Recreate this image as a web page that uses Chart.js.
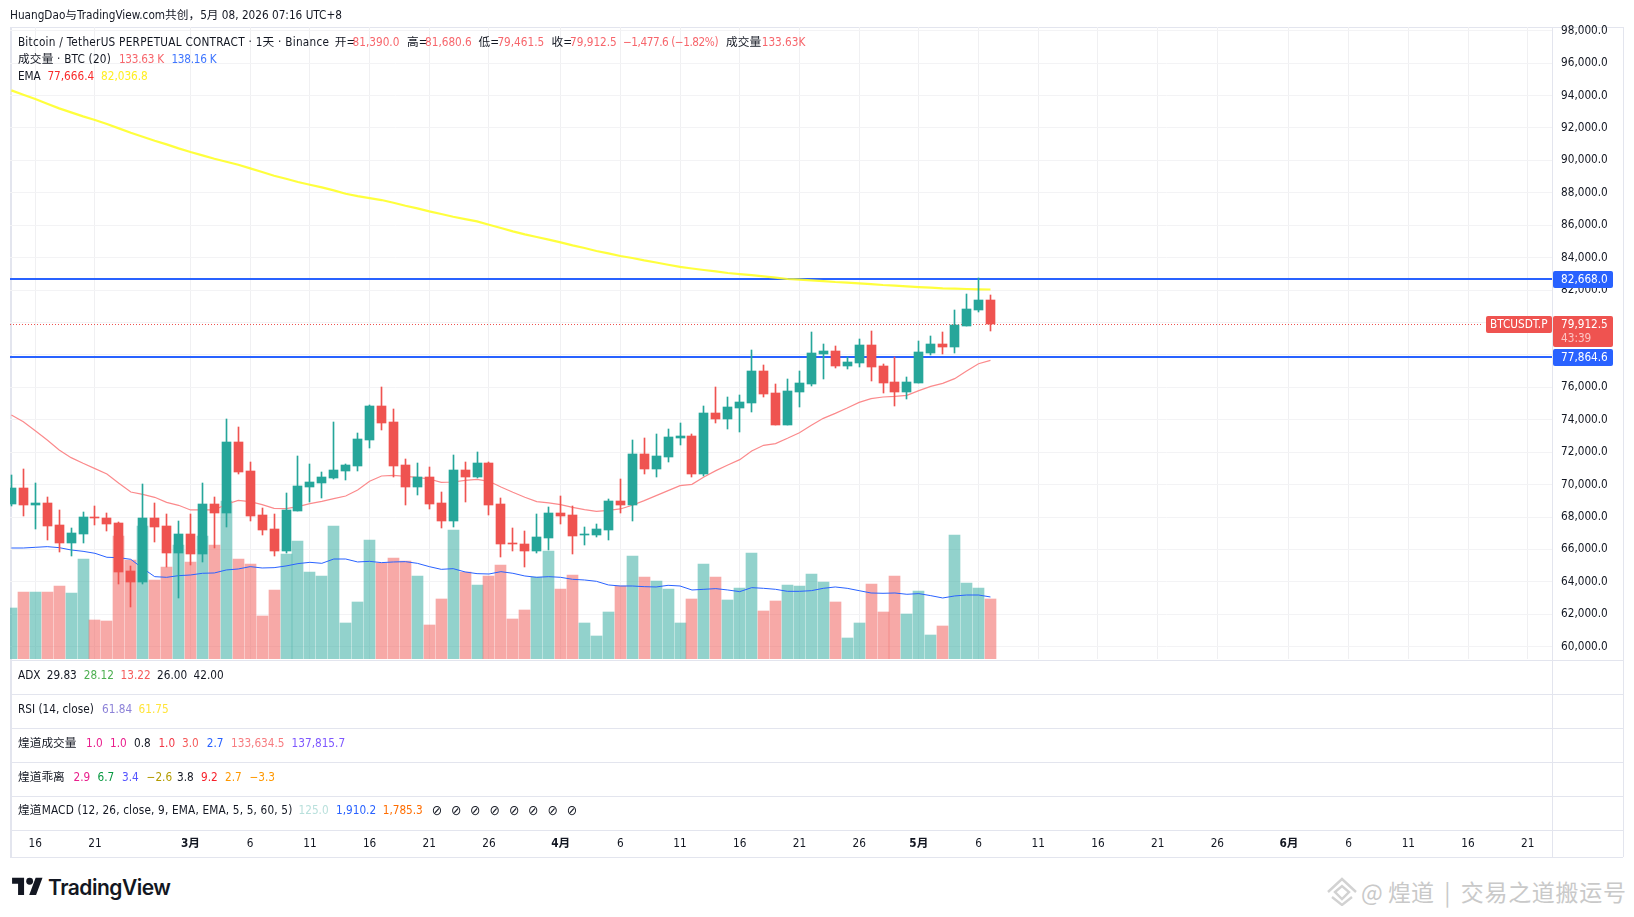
<!DOCTYPE html>
<html><head><meta charset="utf-8">
<script src="https://cdn.jsdelivr.net/npm/chart.js@4"></script>
<style>
html,body{margin:0;padding:0;background:#fff;width:1634px;height:917px;overflow:hidden}
canvas{position:absolute;left:0;top:0;z-index:1}
.t{position:absolute;z-index:2;white-space:nowrap;font:11.7px/16px 'DejaVu Sans Condensed','DejaVu Sans','Noto Sans CJK SC',sans-serif;color:#131722;transform:translateY(-50%)}
.h{position:absolute;z-index:0;background:#e3e5ee;height:1px;left:10px;width:1613px}
.v{position:absolute;z-index:0;background:#e3e5ee;width:1px}
#wm{position:absolute;white-space:nowrap;font:23px/30px 'Noto Sans CJK SC',sans-serif;color:#c9c9c9;transform:translateY(-50%)}
</style></head><body>
<canvas id="c" width="1634" height="917"></canvas>
<div id="ui"></div>
<svg style="position:absolute;left:12px;top:877px" width="31" height="18" viewBox="0 0 36 21"><path fill="#131722" d="M14 21H7V8H0V1h14v20zM28 21h-8L27.5 1h8L28 21z"/><circle cx="20.5" cy="5" r="4" fill="#131722"/></svg>
<div style="position:absolute;left:48px;top:875px;font:600 21px/26px Inter,Roboto,sans-serif;color:#131722;letter-spacing:-.5px">TradingView</div>
<svg style="position:absolute;left:1326px;top:876px" width="32" height="30" viewBox="0 0 32 30" fill="none" stroke="#d2d2d2" stroke-width="2.4"><path d="M2 16 16 3l14 13"/><path d="M9 16l7-6 7 6-7 7z"/><path d="M6 21l10 8 10-8"/></svg>
<div id="wm" style="left:1361px;top:891px">@ 煌道 &nbsp;|&nbsp; <span style="letter-spacing:.7px">交易之道搬运号</span></div>
<script>
const opens=[68800,69790,68740,68870,67510,66400,66950,68000,67940,67630,64670,63990,67940,67450,65780,66950,65720,68800,68250,72630,70840,68130,67260,65900,68370,69850,70100,70410,70840,71150,72750,74850,73860,71210,69850,70470,68870,67760,70900,70470,71330,68800,66400,66340,65900,66710,68250,68130,66890,66890,67200,68990,68740,71890,70960,71700,72850,72980,70630,74400,74030,74700,75010,76990,75630,73660,75690,76190,78040,78220,77300,77480,78590,77300,76310,75690,76250,78100,78650,78470,79760,80750,81390];
const highs=[70590,70960,70100,69240,68430,67320,68310,68680,68250,67690,64980,70040,68870,68190,67760,68190,70100,69240,74050,73550,71400,68560,68190,69480,71770,71270,70780,73860,71270,73180,74910,76020,74660,71580,71330,71090,69540,71830,71400,72010,71400,69170,67320,67140,68190,68620,69300,68680,67390,67570,69110,70350,72750,72880,73120,73430,73780,73100,74830,76000,75380,75510,78280,77360,76190,76490,76990,79390,78650,78530,77850,78960,79450,77420,77850,76620,78840,79150,79390,80750,81740,82760,81680.6];
const lows=[68680,68060,67260,66580,65840,65600,66400,67510,67140,63870,62450,63870,66460,64920,63010,65040,65230,66090,67390,70650,67760,66890,65600,65780,68370,68930,69170,70350,70280,70840,72260,73370,70470,68740,69360,68500,67320,67390,68930,70410,68130,65540,65900,64920,65780,65970,67570,65720,66280,66770,66580,68250,67760,70650,70470,71400,72420,70450,70510,73780,73410,73220,74460,75380,73660,73660,74770,76060,76490,77170,77110,77230,76370,75630,74830,75260,76250,77970,78040,78100,79760,80630,79461.5];
const closes=[69790,68740,68870,67450,66400,67020,68000,67940,67570,64610,63990,67940,67390,65780,66950,65720,68800,68250,72630,70780,68060,67200,65900,68430,69910,70160,70470,70900,71210,72810,74850,73800,71150,69850,70470,68800,67760,70900,70470,71330,68740,66340,66340,65900,66770,68250,68060,66830,66950,67260,68990,68740,71890,70960,71770,72940,72980,70630,74400,74030,74770,75070,76990,75570,73660,75750,76250,78100,78220,77300,77540,78590,77230,76250,75690,76310,78160,78650,78470,79820,80810,81390,79912.5];
const volumes=[113.6,149.3,149.3,149.3,162.6,147,222.7,86.9,84.7,274,220.5,296.2,176,204.9,253.9,216.1,274,253.9,351.9,222.7,211.6,95.9,153.7,233.9,262.9,193.9,184.9,296.2,80.2,127,265.1,213.9,225,218.3,184.9,75.8,133.7,287.3,193.9,164.9,184.9,209.4,89.1,109.2,182.7,240.6,155.9,187.1,80.2,51.3,104.7,162.6,229.4,182.7,173.8,155.9,80.2,133.7,211.6,182.7,131.5,158.2,236.1,107,129.2,164.9,162.6,189.4,171.6,127,46.8,80.2,167.1,104.7,184.9,100.3,151.5,53.5,73.6,276.2,169.3,158.1,133.63];
const volumeMA=[247.2,247.2,248.7,250.2,248,242.8,239.8,235.4,226.5,225.7,222,202,183.4,181.9,185.6,187.1,190.9,191.6,198.3,200.5,205.7,202.7,203.4,207.2,212.4,215.3,213.1,222.7,222.7,216.1,217.5,214.6,216.1,216.8,213.1,205.7,199.7,201.2,193.9,190.1,189.3,194.5,190.9,184.9,181.9,183.4,181.9,177.5,176,173,164.9,162.6,162.6,161.1,160.4,164.1,162.6,153.7,155.2,156.7,153.7,150,158.9,157.4,155.2,150.7,150.7,152.2,157.4,160.4,157.4,152.2,147,146.3,147,144.1,145.6,141.1,135.9,140.4,142.5,142.5,138.16];
const emaFast=[74294,73882,73327,72752,72135,71662,71312,70983,70654,70079,69544,69400,69215,68907,68722,68434,68434,68434,68784,69030,68948,68763,68537,68516,68640,68825,68969,69133,69298,69668,70202,70531,70572,70511,70449,70346,70140,70161,70264,70326,70202,69853,69524,69215,68948,68866,68763,68598,68455,68352,68413,68496,68722,69010,69318,69626,69934,70017,70469,70860,71209,71538,72073,72422,72525,72854,73203,73656,74088,74396,74725,75074,75301,75403,75445,75506,75794,76061,76246,76534,77007,77459,77666.4];
const emaSlow=[94320,94052,93785,93497,93209,92963,92716,92490,92243,91976,91709,91462,91215,90989,90742,90516,90310,90105,89920,89735,89509,89282,89056,88871,88666,88501,88337,88150,87945,87801,87678,87554,87390,87205,87040,86855,86691,86526,86382,86239,86033,85827,85622,85437,85272,85108,84943,84758,84594,84409,84265,84100,83977,83830,83700,83560,83430,83330,83237,83155,83052,82990,82928,82846,82764,82682,82641,82599,82558,82497,82455,82414,82373,82312,82270,82229,82188,82147,82106,82085,82065,82044,82036.8];
const levels=[82668.0,77864.6];
const lastPrice=79912.5;
const priceTicks=[60000,62000,64000,66000,68000,70000,72000,74000,76000,78000,80000,82000,84000,86000,88000,90000,92000,94000,96000,98000];
const dateTickIndex=[2,7,15,20,25,30,35,40,46,51,56,61,66,71,76,81,86,91,96,101,107,112,117,122,127];
const dateTickLabels=['16','21','3月','6','11','16','21','26','4月','6','11','16','21','26','5月','6','11','16','21','26','6月','6','11','16','21'];

const FONT="'DejaVu Sans Condensed','DejaVu Sans','Noto Sans CJK SC',sans-serif";
const UP='#26a69a',DOWN='#ef5350',BLUE='#2962ff';
const XMIN=-0.117,XMAX=129.03,DOTTED_END=123.25;
const isUp=i=>closes[i]>=opens[i];
const candleColors=closes.map((_,i)=>isUp(i)?UP:DOWN);
const volColors=closes.map((_,i)=>isUp(i)?'rgba(38,166,154,.5)':'rgba(239,83,80,.5)');
const pts=a=>a.map((y,x)=>({x,y}));
const hline=(v,a,b)=>[{x:a,y:v},{x:b,y:v}];

const snapMarks={id:'snapMarks',afterDatasetsUpdate(ch){
  ch.getSortedVisibleDatasetMetas().forEach(m=>{
    if(m.type==='bar'){
      m.data.forEach(el=>{el.x=Math.floor(el.x)+.5;el.y=Math.round(el.y);el.base=Math.round(el.base);
        if(el.y===el.base)el.base=el.y+1;});
    }else if(m.data.length===2){
      const half=(m.dataset.options.borderWidth%2)?.5:0;
      m.data.forEach(el=>{el.y=Math.round(el.y)+half;});
    }
  });
}};
const tags={id:'tags',afterDraw(ch){
  const c=ch.ctx,y=ch.scales.y;c.save();
  c.font='11.7px '+FONT;c.textBaseline='middle';c.textAlign='left';
  const box=(x,yy,w,h,col)=>{c.fillStyle=col;c.beginPath();c.roundRect(x,yy,w,h,2);c.fill();};
  levels.forEach(v=>{const p=Math.round(y.getPixelForValue(v));
    box(1553,p-8,60,17,BLUE);c.fillStyle='#fff';c.fillText(v.toLocaleString('en-US',{minimumFractionDigits:1}),1561,p+.5);});
  const p=Math.round(y.getPixelForValue(lastPrice));
  box(1486,p-8,66,17,DOWN);box(1553,p-8,60,31,DOWN);
  c.fillStyle='#fff';c.fillText('BTCUSDT.P',1490,p+.5);
  c.fillText(lastPrice.toLocaleString('en-US',{minimumFractionDigits:1}),1561,p+.5);
  c.fillStyle='#fbc4c3';c.fillText('43:39',1561,p+14.5);
  c.restore();
}};

new Chart(document.getElementById('c'),{
  type:'bar',
  plugins:[snapMarks,tags],
  data:{datasets:[
    {type:'bar',data:candleColors.map((_,i)=>({x:i,y:[opens[i],closes[i]]})),backgroundColor:candleColors,barThickness:9,grouped:false,yAxisID:'y',order:1},
    {type:'bar',data:candleColors.map((_,i)=>({x:i,y:[lows[i],highs[i]]})),backgroundColor:candleColors,barThickness:1,grouped:false,yAxisID:'y',order:2},
    {type:'line',data:pts(emaFast),borderColor:'#fb8a8c',borderWidth:1.2,pointRadius:0,tension:0,yAxisID:'y',order:3},
    {type:'line',data:pts(emaSlow),borderColor:'rgba(255,255,40,.9)',borderWidth:2.2,pointRadius:0,tension:0,yAxisID:'y',order:3},
    {type:'line',data:hline(levels[0],XMIN,XMAX),borderColor:BLUE,borderWidth:2,pointRadius:0,yAxisID:'y',order:4},
    {type:'line',data:hline(levels[1],XMIN,XMAX),borderColor:BLUE,borderWidth:2,pointRadius:0,yAxisID:'y',order:4},
    {type:'line',data:hline(lastPrice,XMIN,DOTTED_END),borderColor:DOWN,borderWidth:1,borderDash:[1,2],pointRadius:0,yAxisID:'y',order:4},
    {type:'line',data:pts(volumeMA),borderColor:BLUE,borderWidth:1,pointRadius:0,tension:0,yAxisID:'yv',order:5},
    {type:'bar',data:volumes.map((y,x)=>({x,y})),backgroundColor:volColors,barThickness:11,grouped:false,yAxisID:'yv',order:6}
  ]},
  options:{
    responsive:false,animation:false,devicePixelRatio:1,
    layout:{padding:{left:10,top:27,right:11,bottom:0}},
    plugins:{legend:{display:false},tooltip:{enabled:false}},
    elements:{bar:{borderWidth:0,borderSkipped:false}},
    scales:{
      x:{type:'linear',position:'bottom',min:XMIN,max:XMAX,offset:false,
        afterBuildTicks:s=>{s.ticks=dateTickIndex.map(v=>({value:v}));},
        afterFit:s=>{s.height=258;s.paddingLeft=0;s.paddingRight=0;},
        grid:{color:'#f0f0f2',offset:false,tickLength:0,drawTicks:false},border:{display:false},
        ticks:{autoSkip:false,maxRotation:0,minRotation:0,padding:178,color:'#131722',
          callback:(v,i)=>dateTickLabels[i],
          font:ctx=>{const l=dateTickLabels[ctx.index]||'';return{family:FONT,size:11.7,weight:l.includes('月')?'bold':'normal'};}}},
      y:{type:'linear',position:'right',min:59240,max:98230,
        afterBuildTicks:s=>{s.ticks=priceTicks.map(v=>({value:v}));},
        afterFit:s=>{s.width=71;s.paddingTop=0;s.paddingBottom=0;},
        grid:{color:'#f3f3f5',tickLength:0,drawTicks:false},border:{display:false},
        ticks:{padding:9,color:'#131722',font:{family:FONT,size:11.7},autoSkip:false,
          callback:v=>v.toLocaleString('en-US',{minimumFractionDigits:1})}},
      yv:{type:'linear',display:false,min:0,max:1407.5}
    }
  }
});

const R='#f7666c';
const NA='<span style="font-size:14px">⊘</span>';
const rows=[
 [14.6,[[10,'HuangDao与TradingView.com共创，5月 08, 2026 07:16 UTC+8']]],
 [41.7,[[17.9,'Bitcoin / TetherUS PERPETUAL CONTRACT · 1天 · Binance',,.25],[334.7,'开='],[352.6,'81,390.0',R],[407,'高='],[425,'81,680.6',R],[478.6,'低='],[497.4,'79,461.5',R],[551.5,'收='],[570,'79,912.5',R],[623,'−1,477.6 (−1.82%)',R,-.45],[726,'成交量'],[761.7,'133.63K',R]]],
 [59,[[17.9,'成交量 · BTC (20)',,.2],[118.9,'133.63 K',R,-.25],[171.4,'138.16 K','#3f76ff',-.25]]],
 [76,[[17.9,'EMA'],[47.4,'77,666.4','#f92a2a'],[101,'82,036.8','#ffee22']]],
 [675,[[18,'ADX'],[46.7,'29.83'],[83.8,'28.12','#4caf50'],[120.5,'13.22','#f55a5a'],[157,'26.00'],[193.6,'42.00']]],
 [709,[[18,'RSI (14, close)'],[102,'61.84','#8c82d8'],[138.5,'61.75','#ffe43b']]],
 [743,[[18,'煌道成交量'],[86,'1.0','#e91e8c'],[110,'1.0','#e91e8c'],[134,'0.8'],[158.4,'1.0','#f23645'],[182,'3.0','#f55a5a'],[206.7,'2.7','#2962ff'],[231,'133,634.5','#f77c80'],[291.6,'137,815.7','#7e57ff']]],
 [777,[[18,'煌道乖离'],[73.5,'2.9','#e91e8c'],[97.6,'6.7','#089941'],[122,'3.4','#5555ff'],[146.6,'−2.6','#b39b00'],[177,'3.8'],[201,'9.2','#f7202a'],[225,'2.7','#ff9800'],[249.5,'−3.3','#ff9800']]],
 [810,[[18,'煌道MACD (12, 26, close, 9, EMA, EMA, 5, 5, 60, 5)',,.17],[298.5,'125.0','#b9e0dc'],[336,'1,910.2','#2962ff'],[382.7,'1,785.3','#ff6d00'],[431.7,NA],[451,NA],[470,NA],[489.5,NA],[509,NA],[528,NA],[547.6,NA],[566.8,NA]]]
];
const ui=document.getElementById('ui');let html='';
rows.forEach(([y,segs])=>segs.forEach(([x,s,c,ls])=>{html+=`<div class="t" style="left:${x}px;top:${y}px${c?';color:'+c:''}${ls?';letter-spacing:'+ls+'px':''}">${s}</div>`;}));
[27,660,694,728,762,796,830,857].forEach(y=>{html+=`<div class="h" style="top:${y}px"></div>`;});
html+=`<div class="v" style="left:10px;top:27px;height:830px;width:1.5px"></div><div class="v" style="left:1552px;top:27px;height:830px"></div><div class="v" style="left:1623px;top:27px;height:830px"></div>`;
ui.innerHTML=html;
</script>
</body></html>
